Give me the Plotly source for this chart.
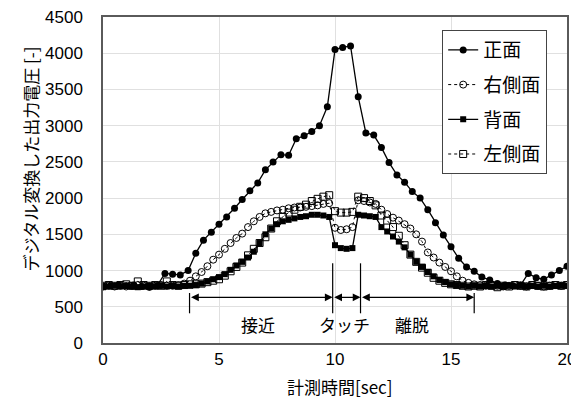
import plotly.graph_objects as go

# time axis of the front (正面) series, ~0.33 s sampling
t = [0.0, 0.33, 0.67, 1.0, 1.33, 1.67, 2.0, 2.33, 2.67, 3.0, 3.33, 3.67, 4.0, 4.33, 4.67,
     5.0, 5.33, 5.67, 6.0, 6.33, 6.67, 7.0, 7.33, 7.67, 8.0, 8.33, 8.67, 9.0, 9.33, 9.67,
     10.0, 10.33, 10.67, 11.0, 11.33, 11.67, 12.0, 12.33, 12.67, 13.0, 13.33, 13.67, 14.0, 14.33, 14.67,
     15.0, 15.33, 15.67, 16.0, 16.33, 16.67, 17.0, 17.33, 17.67, 18.0, 18.33, 18.67, 19.0, 19.33, 19.67, 20.0]

front = [780, 790, 800, 790, 800, 780, 770, 790, 960, 950, 940, 1000, 1240, 1420, 1530,
         1640, 1740, 1860, 1980, 2100, 2210, 2390, 2500, 2600, 2590, 2820, 2860, 2920, 3000, 3260,
         4050, 4080, 4100, 3400, 2900, 2870, 2700, 2490, 2320, 2220, 2090, 2000, 1840, 1660, 1490,
         1330, 1170, 1050, 990, 910, 870, 820, 800, 790, 800, 960, 900, 880, 940, 1000, 1060]

# time axis of the side/back series, 0.25 s sampling
t2 = [0.0, 0.25, 0.5, 0.75, 1.0, 1.25, 1.5, 1.75, 2.0, 2.25, 2.5, 2.75, 3.0, 3.25, 3.5, 3.75,
      4.0, 4.25, 4.5, 4.75, 5.0, 5.25, 5.5, 5.75, 6.0, 6.25, 6.5, 6.75, 7.0, 7.25, 7.5, 7.75,
      8.0, 8.25, 8.5, 8.75, 9.0, 9.25, 9.5, 9.75, 10.0, 10.25, 10.5, 10.75, 11.0, 11.25, 11.5, 11.75,
      12.0, 12.25, 12.5, 12.75, 13.0, 13.25, 13.5, 13.75, 14.0, 14.25, 14.5, 14.75, 15.0, 15.25, 15.5, 15.75,
      16.0, 16.25, 16.5, 16.75, 17.0, 17.25, 17.5, 17.75, 18.0, 18.25, 18.5, 18.75, 19.0, 19.25, 19.5, 19.75,
      20.0]

right = [780, 790, 780, 790, 780, 790, 800, 790, 780, 790, 800, 790, 790, 800, 820, 860,
         920, 980, 1060, 1150, 1220, 1300, 1380, 1450, 1510, 1600, 1680, 1740, 1790, 1810, 1830, 1840,
         1860, 1870, 1870, 1880, 1890, 1900, 1920, 1930, 1590, 1560, 1570, 1600, 1970, 1960, 1940, 1920,
         1840, 1780, 1730, 1690, 1640, 1580, 1500, 1400, 1250, 1180, 1110, 1050, 990, 920, 860, 830,
         810, 800, 790, 800, 790, 780, 790, 800, 790, 780, 800, 790, 780, 790, 800, 790,
         800]

back = [770, 780, 790, 780, 790, 780, 770, 780, 790, 780, 790, 780, 790, 780, 790, 790,
        800, 820, 850, 880, 910, 950, 1010, 1070, 1120, 1180, 1260, 1380, 1500, 1580, 1640, 1680,
        1700, 1720, 1740, 1750, 1770, 1770, 1760, 1740, 1350, 1310, 1300, 1310, 1770, 1760, 1750, 1740,
        1600, 1540, 1470, 1400, 1320, 1220, 1120, 1050, 980, 920, 870, 840, 810, 800, 790, 780,
        790, 780, 790, 780, 790, 780, 790, 780, 790, 780, 790, 780, 790, 780, 790, 790,
        790]

left = [790, 800, 790, 800, 810, 790, 850, 800, 790, 800, 790, 850, 800, 790, 800, 810,
        810, 820, 840, 860, 880, 930, 990, 1050, 1110, 1210, 1300, 1380, 1460, 1580, 1680, 1740,
        1800, 1840, 1880, 1910, 1960, 1990, 2020, 2040, 1820, 1800, 1800, 1810, 2020, 2000, 1960, 1900,
        1760, 1690, 1600, 1480, 1350, 1220, 1120, 1040, 970, 900, 860, 830, 810, 800, 790, 780,
        790, 780, 800, 790, 770, 790, 780, 800, 790, 780, 800, 790, 780, 790, 800, 790,
        800]

names = ["正面", "右側面", "背面", "左側面"]

# phase annotations
phase_labels = ["接近", "タッチ", "離脱"]
phase_bounds = [3.73, 9.9, 11.1, 16.0]
phase_tops = [690, 1100, 1100, 690]
phase_label_x = [6.7, 10.4, 13.3]
arrow_y = 630
label_y = 250

JP = "Noto Sans CJK JP"
NUM = "Liberation Sans"

fig = go.Figure()
fig.add_trace(go.Scatter(x=t, y=front, name=names[0], legendgroup="a", mode="lines+markers",
                         line=dict(color="black", width=1.3),
                         marker=dict(symbol="circle", size=7, color="black")))
fig.add_trace(go.Scatter(x=t2, y=right, name=names[1], legendgroup="b", mode="lines+markers",
                         line=dict(color="black", width=1, dash="dot"),
                         marker=dict(symbol="circle-open", size=7, color="black", line=dict(width=1))))
fig.add_trace(go.Scatter(x=t2, y=back, name=names[2], legendgroup="c", mode="lines+markers",
                         line=dict(color="black", width=1.3),
                         marker=dict(symbol="square", size=6, color="black")))
fig.add_trace(go.Scatter(x=t2, y=left, name=names[3], legendgroup="d", mode="lines+markers",
                         line=dict(color="black", width=1, dash="dot"),
                         marker=dict(symbol="square-open", size=7, color="black", line=dict(width=1))))

for xb, yt in zip(phase_bounds, phase_tops):
    fig.add_shape(type="line", x0=xb, x1=xb, y0=410, y1=yt, xref="x", yref="y",
                  line=dict(color="black", width=1.2))

for i in range(3):
    fig.add_annotation(x=phase_bounds[i + 1], y=arrow_y, ax=phase_bounds[i], ay=arrow_y,
                       xref="x", yref="y", axref="x", ayref="y", text="",
                       showarrow=True, arrowhead=2, arrowside="end+start",
                       arrowsize=1.2, arrowwidth=1.3, arrowcolor="black",
                       standoff=0, startstandoff=0)
    fig.add_annotation(x=phase_label_x[i], y=label_y, xref="x", yref="y",
                       text=phase_labels[i], showarrow=False,
                       font=dict(size=17, color="black", family=JP))

# axis titles as annotations
fig.add_annotation(text="デジタル変換した出力電圧 [-]", xref="paper", yref="paper",
                   x=-0.156, y=0.565, showarrow=False, textangle=-90,
                   xanchor="center", yanchor="middle",
                   font=dict(size=17, color="black", family=JP))
fig.add_annotation(text="計測時間[sec]", xref="paper", yref="paper",
                   x=0.51, y=-0.132, showarrow=False,
                   xanchor="center", yanchor="middle",
                   font=dict(size=17, color="black", family=JP))

fig.update_layout(
    width=571, height=393,
    margin=dict(l=95, r=12, t=9, b=58),
    paper_bgcolor="white", plot_bgcolor="white",
    font=dict(family=JP, color="black", size=16),
    legend=dict(x=0.731, y=0.96, xanchor="left", yanchor="top",
                bgcolor="white", bordercolor="#444", borderwidth=1,
                font=dict(size=19, family=JP),
                itemwidth=30, tracegroupgap=7),
    showlegend=True,
)
fig.update_xaxes(range=[0, 20], tickvals=[0, 5, 10, 15, 20], showgrid=True, gridcolor="#e0e0e0",
                 showline=True, linecolor="#5a5a5a", linewidth=1.5, mirror=True, ticks="",
                 zeroline=False, tickfont=dict(size=17, family=NUM), ticklabelstandoff=0,
                 ticklabeloverflow="allow", automargin=False)
fig.update_yaxes(range=[0, 4500], tickvals=list(range(0, 4501, 500)), showgrid=True, gridcolor="#e0e0e0",
                 showline=True, linecolor="#5a5a5a", linewidth=1.5, mirror=True, ticks="",
                 zeroline=False, tickfont=dict(size=17, family=NUM), ticklabelstandoff=15,
                 ticklabeloverflow="allow", automargin=False)

fig.write_html("out.html")
